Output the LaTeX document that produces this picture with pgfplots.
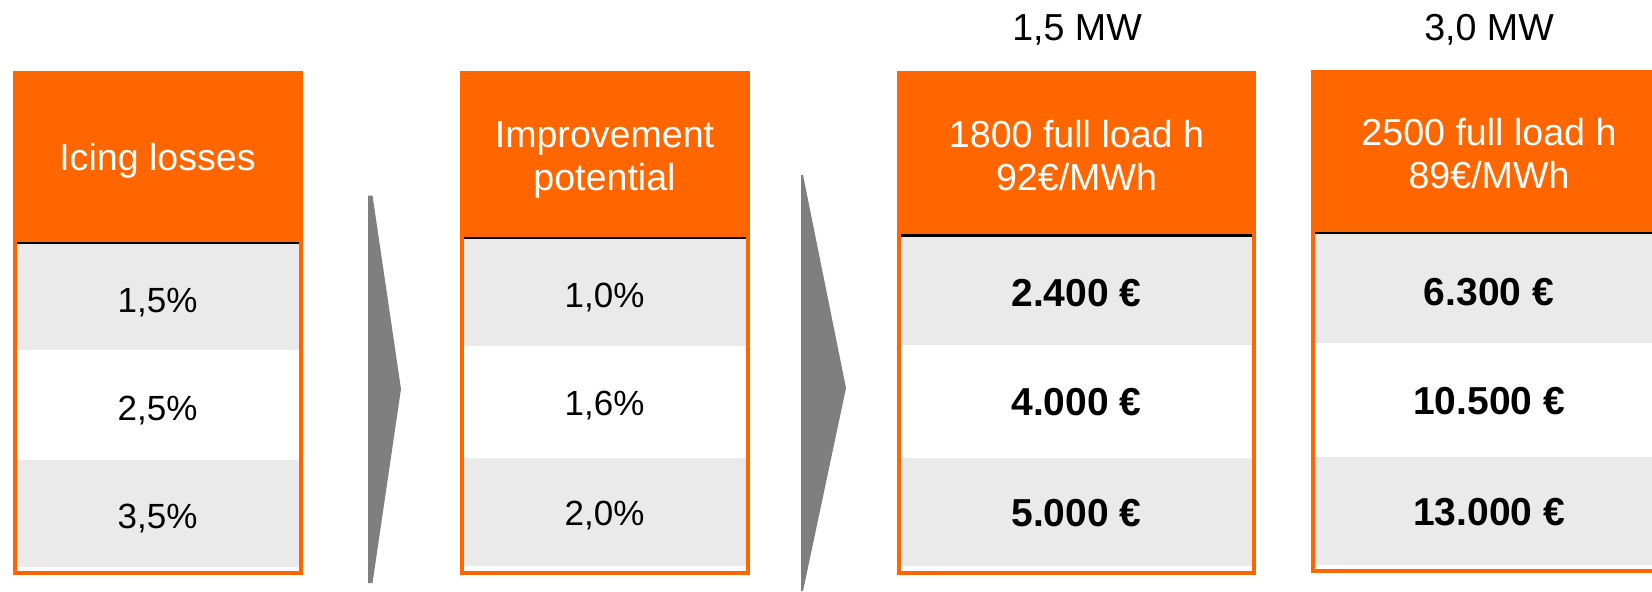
\documentclass[border=0pt]{standalone}
\usepackage{pgfplots}
\pgfplotsset{compat=1.18}
\usepackage{fontspec}
\setmainfont{Liberation Sans}
\definecolor{org}{HTML}{FF6600}
\definecolor{lgray}{HTML}{EAEAEA}
\definecolor{agray}{HTML}{7F7F7F}
% one table: #1 xl, #2 xr, #3 top, #4 header bottom, #5 row1 end, #6 row2 end, #7 row3 end, #8 bottom
\newcommand{\tablebox}[8]{%
  \addplot[fill=org,draw=none,forget plot] coordinates {(#1,#3) (#2,#3) (#2,#4) (#1,#4)} -- cycle;
  \addplot[fill=lgray,draw=none,forget plot] coordinates {(#1+4,#4) (#2-4,#4) (#2-4,#5) (#1+4,#5)} -- cycle;
  \addplot[fill=lgray,draw=none,forget plot] coordinates {(#1+4,#6) (#2-4,#6) (#2-4,#7) (#1+4,#7)} -- cycle;
  \addplot[draw=org,line width=2pt,forget plot] coordinates {(#1+2,#4) (#1+2,#8-2) (#2-2,#8-2) (#2-2,#4)};
  \addplot[draw=black,line width=1.25pt,forget plot] coordinates {(#1+4,#4+1) (#2-4,#4+1)};
}
\begin{document}
\begin{tikzpicture}
\begin{axis}[
  width=826pt, height=295.5pt, scale only axis,
  xmin=0, xmax=1652, ymin=0, ymax=591, y dir=reverse,
  hide axis, clip=true,
]
\path (rel axis cs:0,0) rectangle (rel axis cs:1,1);
% tables
\tablebox{12.5}{302.5}{70.5}{242}{350}{460}{567}{575}
\tablebox{459.5}{749.5}{70.5}{237}{346}{458}{566}{575}
\tablebox{897}{1256}{70.5}{234.5}{344.5}{458}{566}{575}
\tablebox{1310.5}{1662}{70}{232}{343}{457}{565}{573}
% arrows
\addplot[fill=agray,draw=none,forget plot] coordinates {(368,195.5) (372.5,195.5) (401,389) (372.5,583) (368,583)} -- cycle;
\addplot[fill=agray,draw=none,forget plot] coordinates {(801,175) (803,175) (846,388) (803,591) (801,591)} -- cycle;
% texts
\def\fs{\fontsize{17.5}{21}\selectfont}
\def\fh{\fontsize{18.8}{22}\selectfont}
\def\fb{\fontsize{19.5}{23}\selectfont\bfseries}
\node[anchor=base,text=black] at (axis cs:1077,40.5) {\fh 1,5 MW};
\node[anchor=base,text=black] at (axis cs:1489,40.5) {\fh 3,0 MW};
\node[anchor=base,text=white] at (axis cs:157.5,170) {\fh Icing losses};
\node[anchor=base,text=white] at (axis cs:604.5,147) {\fh Improvement};
\node[anchor=base,text=white] at (axis cs:604.5,190) {\fh potential};
\node[anchor=base,text=white] at (axis cs:1076.5,147) {\fh 1800 full load h};
\node[anchor=base,text=white] at (axis cs:1076.5,190) {\fh 92€/MWh};
\node[anchor=base,text=white] at (axis cs:1489,145) {\fh 2500 full load h};
\node[anchor=base,text=white] at (axis cs:1489,188) {\fh 89€/MWh};
\node[anchor=base] at (axis cs:157.5,312) {\fs 1,5\%};
\node[anchor=base] at (axis cs:157.5,420) {\fs 2,5\%};
\node[anchor=base] at (axis cs:157.5,528) {\fs 3,5\%};
\node[anchor=base] at (axis cs:604.5,307) {\fs 1,0\%};
\node[anchor=base] at (axis cs:604.5,415) {\fs 1,6\%};
\node[anchor=base] at (axis cs:604.5,525) {\fs 2,0\%};
\node[anchor=base] at (axis cs:1076.5,306) {\fb 2.400 €};
\node[anchor=base] at (axis cs:1076.5,415) {\fb 4.000 €};
\node[anchor=base] at (axis cs:1076.5,526) {\fb 5.000 €};
\node[anchor=base] at (axis cs:1489,305) {\fb 6.300 €};
\node[anchor=base] at (axis cs:1489,414) {\fb 10.500 €};
\node[anchor=base] at (axis cs:1489,525) {\fb 13.000 €};
\end{axis}
\end{tikzpicture}
\end{document}
